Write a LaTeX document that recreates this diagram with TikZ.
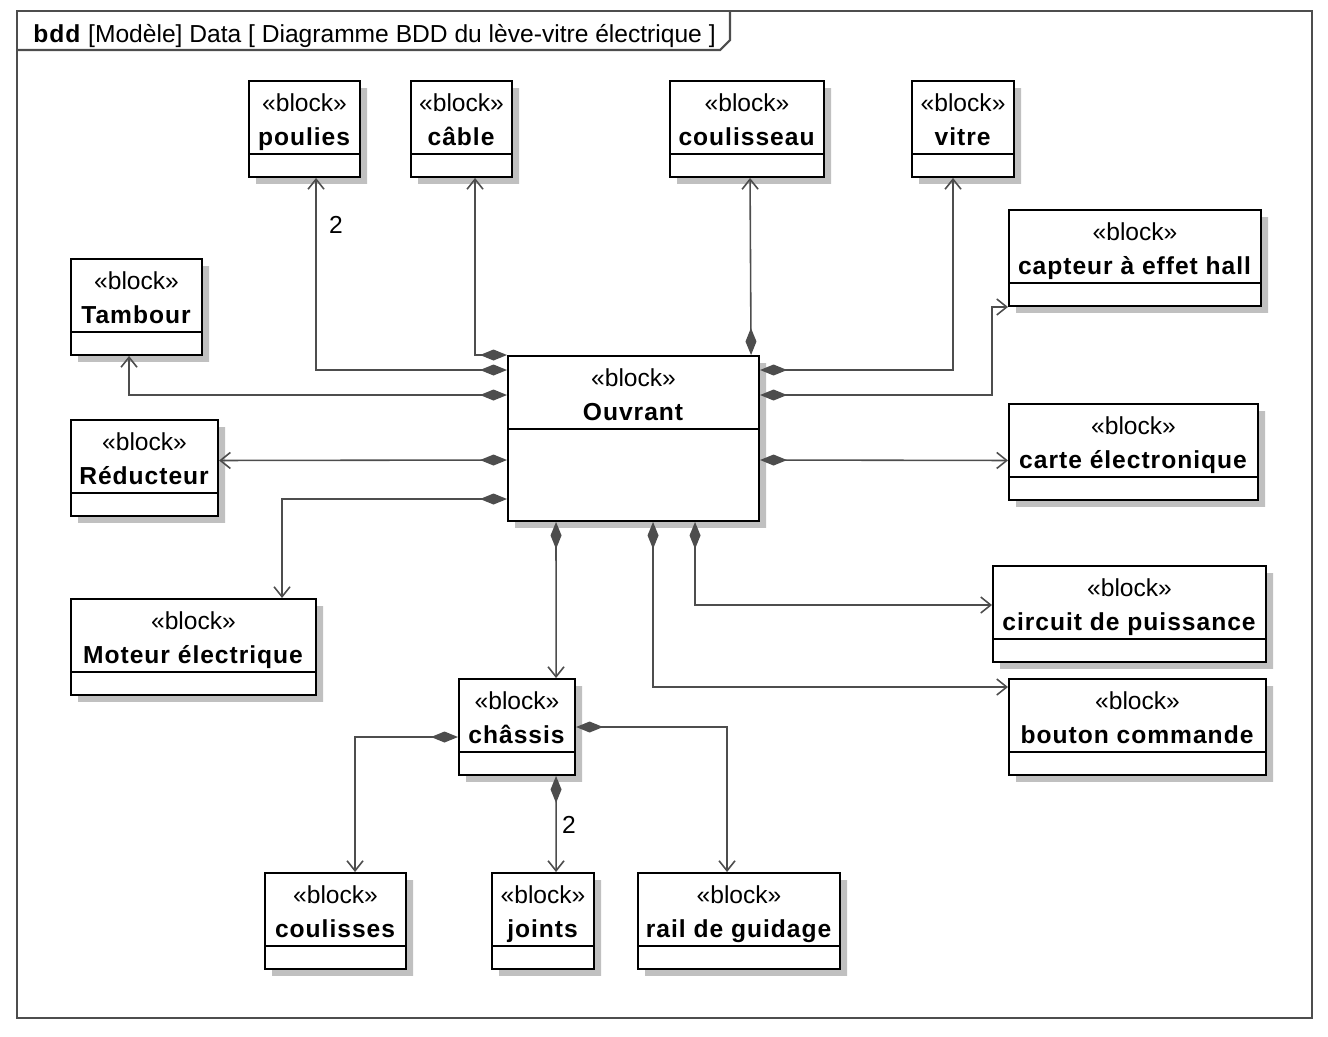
\documentclass[tikz,border=0pt]{standalone}
\usepackage{fontspec}
\setmainfont{Liberation Sans}[BoldFeatures={LetterSpace=4}]
\usepackage{xcolor}
\usetikzlibrary{arrows.meta,shapes.multipart,shadows}

\definecolor{linegray}{HTML}{4D4D4D}
\definecolor{shadegray}{HTML}{C0C0C0}
\newcommand{\stereo}[1]{\rule{0pt}{17pt}«block»\\\textbf{#1}\rule[-4.4pt]{0pt}{4.4pt}}

\begin{document}
\begin{tikzpicture}[x=0.02cm, y=-0.02cm,
  block/.style={rectangle split, rectangle split parts=2, draw=black, line width=1.2pt, fill=white,
    drop shadow={shadow xshift=0.14cm, shadow yshift=-0.14cm, fill=shadegray, opacity=1},
    anchor=north west, align=center, inner xsep=3pt, inner ysep=0pt,
    font=\fontsize{14}{18.8}\selectfont,
    rectangle split empty part height=0.42cm, rectangle split empty part depth=0pt},
  comp/.style={draw=linegray, line width=0.9pt,
    {Diamond[length=0.54cm,width=0.22cm]}-{Straight Barb[length=0.2cm,width=0.32cm]}},
  mult/.style={font=\fontsize{14}{17}\selectfont}]
\useasboundingbox (0,0) rectangle (1328,1036);

% cadre
\draw[line width=1.2pt, draw=linegray] (17,11) rectangle (1312,1018);
\draw[line width=1.2pt, draw=linegray] (17,50) -- (720,50) -- (730,40) -- (730,11);
\node[anchor=base west, inner sep=0pt, font=\fontsize{14}{17}\selectfont] (title) at (33,42)
  {\textbf{bdd} [Modèle] Data [ Diagramme BDD du lève-vitre électrique ]};

% blocs
\node[block, minimum width=2.22cm] (poulies) at (248,80) {\stereo{poulies}};
\node[block, minimum width=2.02cm] (cable) at (410,80) {\stereo{câble}};
\node[block, minimum width=3.08cm] (coulisseau) at (669,80) {\stereo{coulisseau}};
\node[block, minimum width=2.04cm] (vitre) at (911,80) {\stereo{vitre}};
\node[block, minimum width=5.04cm] (capteur) at (1008,209) {\stereo{capteur à effet hall}};
\node[block, minimum width=2.62cm] (tambour) at (70,258) {\stereo{Tambour}};
\node[block, minimum width=5.02cm, rectangle split empty part height=1.8cm] (ouvrant) at (507,355) {\stereo{Ouvrant}};
\node[block, minimum width=2.94cm] (reducteur) at (70,419) {\stereo{Réducteur}};
\node[block, minimum width=4.98cm] (carte) at (1008,403) {\stereo{carte électronique}};
\node[block, minimum width=4.90cm] (moteur) at (70,598) {\stereo{Moteur électrique}};
\node[block, minimum width=5.46cm] (circuit) at (992,565) {\stereo{circuit de puissance}};
\node[block, minimum width=5.14cm] (bouton) at (1008,678) {\stereo{bouton commande}};
\node[block, minimum width=2.32cm] (chassis) at (458,678) {\stereo{châssis}};
\node[block, minimum width=2.82cm] (coulisses) at (264,872) {\stereo{coulisses}};
\node[block, minimum width=2.04cm] (joints) at (491,872) {\stereo{joints}};
\node[block, minimum width=4.04cm] (rail) at (637,872) {\stereo{rail de guidage}};

% compositions de Ouvrant
\draw[comp] (ouvrant.north west) -| ([shift={(13.5,0)}]cable.south);
\draw[comp] ([shift={(0,15)}]ouvrant.north west) -| ([shift={(11.5,0)}]poulies.south);
\draw[comp] ([shift={(0,40)}]ouvrant.north west) -| ([shift={(-7.5,0)}]tambour.south);
\draw[comp] ([shift={(0,105)}]ouvrant.north west) -- ([shift={(0,-7.5)}]reducteur.east);
\draw[comp] ([shift={(0,144)}]ouvrant.north west) -| ([shift={(88.5,0)}]moteur.north);
\draw[comp] ([shift={(-9,0)}]ouvrant.north east) -- ([shift={(3,0)}]coulisseau.south);
\draw[comp] ([shift={(0,15)}]ouvrant.north east) -| ([shift={(-10,0)}]vitre.south);
\draw[comp] ([shift={(0,40)}]ouvrant.north east) -| ([shift={(-16,0)}]capteur.south west) -- (capteur.south west);
\draw[comp] ([shift={(0,105)}]ouvrant.north east) -- ([shift={(0,8.5)}]carte.west);
\draw[comp] ([shift={(-77.5,0)}]ouvrant.south) -- ([shift={(39,0)}]chassis.north);
\draw[comp] ([shift={(61.5,0)}]ouvrant.south) |- ([shift={(0,40)}]circuit.north west);
\draw[comp] ([shift={(19.5,0)}]ouvrant.south) |- ([shift={(0,9)}]bouton.north west);

% compositions de châssis
\draw[comp] ([shift={(0,59)}]chassis.north west) -| ([shift={(19.5,0)}]coulisses.north);
\draw[comp] ([shift={(0,49)}]chassis.north east) -| ([shift={(-12,0)}]rail.north);
\draw[comp] ([shift={(39,0)}]chassis.south) -- ([shift={(13,0)}]joints.north);

% multiplicités
\node[mult] (nPoulies) at (336,225) {2};
\node[mult] (nJoints) at (569,825) {2};
\end{tikzpicture}
\end{document}
